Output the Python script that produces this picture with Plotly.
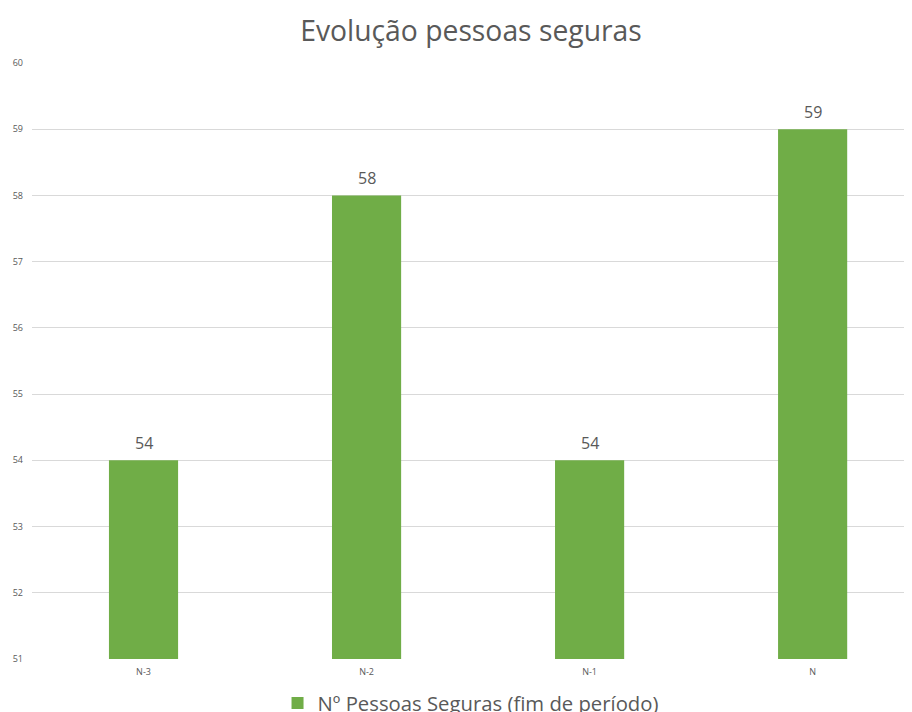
import plotly.graph_objects as go

categories = ["N-3", "N-2", "N-1", "N"]
values = [54, 58, 54, 59]
series_name = "Nº Pessoas Seguras (fim de período)"
title_text = "Evolução pessoas seguras"
y_ticks = [51, 52, 53, 54, 55, 56, 57, 58, 59, 60]

green = "#70AD47"
gray_text = "#595959"

fig = go.Figure()
fig.add_trace(go.Bar(
    x=categories, y=values, name=series_name,
    marker=dict(color=green, line=dict(width=0)),
    width=0.31,
    showlegend=True,
))
for c, v in zip(categories, values):
    fig.add_annotation(x=c, y=v, text=str(v), showarrow=False, yanchor="bottom",
                       yshift=4, font=dict(family="Open Sans", size=16, color=gray_text))

fig.update_layout(
    width=905, height=705,
    margin=dict(l=24, r=0, t=55, b=54, autoexpand=False),
    paper_bgcolor="white", plot_bgcolor="white",
    font=dict(family="Open Sans", color=gray_text),
    title=dict(text=title_text, x=0.5116, xanchor="center", y=0.9674, yanchor="middle",
               font=dict(family="Open Sans", size=28.3, color=gray_text)),
    xaxis=dict(range=[-0.5, 3.45], showgrid=False, showline=False, ticks="",
               automargin=False,
               tickfont=dict(size=9, color=gray_text), ticklabelstandoff=6),
    yaxis=dict(range=[51, 60], tickvals=y_ticks, showgrid=True, gridcolor="#D9D9D9",
               gridwidth=1, zeroline=False, showline=False, ticks="", automargin=False,
               tickfont=dict(size=9, color=gray_text), ticklabelstandoff=8),
    legend=dict(orientation="h", x=0.2787, xanchor="left", y=-0.0745, yanchor="middle",
                font=dict(family="Open Sans", size=20.3, color=gray_text)),
)

fig.write_html("out.html")
